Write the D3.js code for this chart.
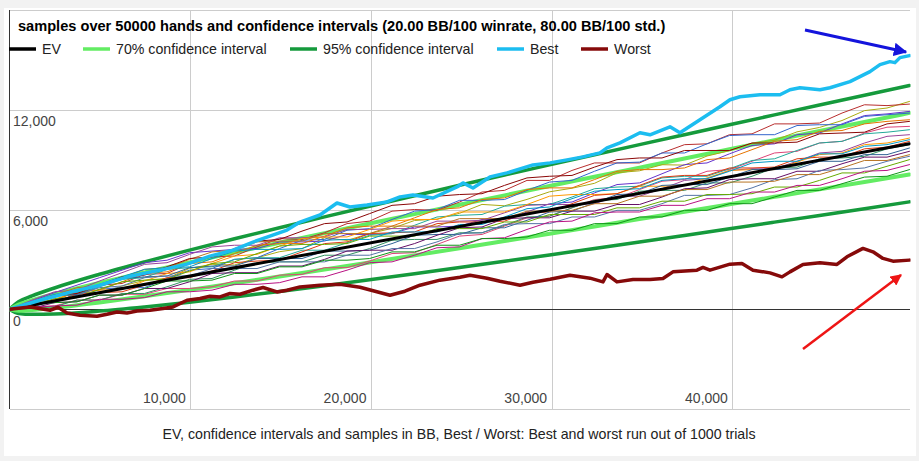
<!DOCTYPE html>
<html><head><meta charset="utf-8">
<script src="https://cdn.jsdelivr.net/npm/d3@7"></script>
<style>
html,body{margin:0;padding:0;background:#f2f2f2;}
svg{display:block;font-family:"Liberation Sans",Arial,sans-serif;}
</style></head>
<body>
<svg id="c" width="919" height="461"></svg>
<script>
// ---------- data ----------
const titleText = "samples over 50000 hands and confidence intervals (20.00 BB/100 winrate, 80.00 BB/100 std.)";
const captionText = "EV, confidence intervals and samples in BB, Best / Worst: Best and worst run out of 1000 trials";
const legendLabels = ["EV", "70% confidence interval", "95% confidence interval", "Best", "Worst"];
const xTicks = [10000, 20000, 30000, 40000];
const yTicks = [-6000, 0, 6000, 12000, 18000];
const yLabelTicks = [0, 6000, 12000];

const evHands = [0, 49800];
const evValues = [0, 9960];

const ciHands = [0, 500, 1245, 2490, 4980, 7470, 9960, 12450, 14940, 17430, 19920, 22410, 24900, 27390, 29880, 32370, 34860, 37350, 39840, 42330, 44820, 47310, 49800];
const ci70Upper = [0, 285, 541, 912, 1581, 2210, 2819, 3415, 4001, 4580, 5154, 5723, 6288, 6850, 7409, 7965, 8519, 9072, 9622, 10171, 10719, 11265, 11810];
const ci70Lower = [0, -85, -43, 84, 411, 778, 1165, 1565, 1975, 2392, 2814, 3241, 3672, 4106, 4543, 4983, 5425, 5868, 6314, 6761, 7209, 7659, 8110];
const ci95Upper = [0, 451, 802, 1280, 2103, 2849, 3557, 4240, 4905, 5556, 6197, 6829, 7454, 8073, 8686, 9295, 9900, 10500, 11098, 11692, 12284, 12873, 13459];
const ci95Lower = [0, -251, -304, -284, -111, 139, 427, 740, 1071, 1416, 1771, 2135, 2506, 2883, 3266, 3653, 4044, 4440, 4838, 5240, 5644, 6051, 6461];

const bestHands = [0, 1688, 3348, 5007, 6667, 8327, 9822, 11094, 12366, 13473, 14248, 15355, 16074, 17180, 18121, 18840, 19781, 20887, 21607, 22327, 23433, 24760, 25093, 25646, 26586, 27527, 28967, 29907, 30847, 31732, 32673, 33061, 33779, 34885, 35440, 36546, 37099, 38206, 39312, 39867, 40419, 41526, 42632, 43186, 43739, 44846, 45400, 46506, 47613, 48166, 48720, 48996, 49273, 49800];
const bestValues = [0, 543, 1025, 1447, 1990, 2352, 2714, 3196, 3558, 4040, 4342, 4764, 5246, 5668, 6392, 6151, 6271, 6452, 6754, 6874, 6693, 7357, 7598, 7296, 7960, 8201, 8683, 8804, 8985, 9166, 9407, 9708, 10010, 10613, 10492, 10975, 10613, 11397, 12181, 12603, 12784, 12904, 12904, 13206, 13326, 13206, 13326, 13688, 14291, 14713, 14894, 14834, 15135, 15256];

const worstHands = [0, 1134, 2241, 2684, 3182, 3901, 4842, 5395, 5948, 6502, 7055, 7774, 8494, 9047, 9822, 10541, 11094, 11647, 12200, 12754, 13473, 14027, 14801, 15355, 16074, 17180, 18287, 19394, 20224, 21054, 21884, 22713, 23820, 24927, 25480, 26421, 27140, 28247, 28967, 29907, 31014, 32120, 32839, 33061, 33614, 34499, 35440, 36159, 36712, 38040, 38372, 38760, 39867, 40530, 41140, 42080, 42744, 43186, 43905, 44846, 45786, 46339, 47225, 47778, 48332, 48885, 49800];
const worstValues = [0, 139, -60, 121, -223, -362, -422, -302, -163, -223, -103, -60, 42, 139, 543, 645, 784, 742, 947, 905, 1146, 1309, 1043, 1146, 1345, 1447, 1508, 1327, 1085, 844, 1085, 1447, 1749, 1930, 2050, 1869, 1688, 1447, 1628, 1809, 2050, 1869, 1646, 2092, 1646, 1791, 1791, 1851, 2249, 2352, 2515, 2352, 2714, 2756, 2352, 2189, 1948, 2249, 2695, 2792, 2695, 3154, 3660, 3455, 3057, 2894, 2955];

const sampleHands = [0, 1245, 2490, 3735, 4980, 6225, 7470, 8715, 9960, 11205, 12450, 13695, 14940, 16185, 17430, 18675, 19920, 21165, 22410, 23655, 24900, 26145, 27390, 28635, 29880, 31125, 32370, 33615, 34860, 36105, 37350, 38595, 39840, 41085, 42330, 43575, 44820, 46065, 47310, 48555, 49800];
const sampleColors = ["#aaaa11", "#b82e2e", "#6633cc", "#3366cc", "#e67300", "#dd4477", "#22aa99", "#994499", "#ff9900", "#dc3912", "#329262", "#316395", "#651067", "#5574a6", "#66aa00", "#b77322", "#b91383", "#109618", "#0099c6", "#8b0707"];
const s01 = [0, 386, 542, 1058, 944, 1400, 1736, 1862, 2458, 2704, 2660, 3096, 3462, 3648, 4304, 4140, 4556, 4862, 5338, 5424, 5770, 6306, 6222, 6608, 7064, 7280, 7576, 8212, 8328, 8694, 8670, 9216, 9542, 9978, 10164, 10670, 10936, 11352, 11948, 12104, 12500];
const s02 = [0, 400, 400, 950, 1450, 1550, 2100, 2150, 2750, 3150, 3200, 3750, 4250, 4200, 4600, 5150, 5300, 5900, 6000, 5950, 6450, 7050, 7150, 7750, 7750, 8350, 8800, 8800, 8800, 9400, 9900, 9950, 10500, 10550, 11150, 11150, 11200, 11800, 12300, 12250, 12340];
const s03 = [0, 500, 1000, 1450, 1900, 2350, 2800, 2950, 3400, 3500, 3600, 3650, 4050, 4050, 4100, 4500, 4500, 4550, 4950, 4950, 5000, 5400, 5400, 5850, 6350, 6450, 7000, 7500, 7600, 8150, 8700, 8800, 9350, 9850, 9950, 10500, 10600, 11150, 11650, 11750, 11900];
const s04 = [0, 100, 600, 700, 1200, 1300, 1300, 1850, 2350, 2450, 3000, 3100, 3650, 4150, 4200, 4750, 4850, 5400, 5900, 6000, 6550, 6550, 6600, 7150, 7650, 7750, 8300, 8800, 8850, 9400, 9400, 9950, 10450, 10500, 10500, 11050, 11100, 11100, 11600, 11700, 11800];
const s05 = [0, 450, 550, 1050, 1150, 1650, 2150, 2250, 2750, 2850, 3350, 3850, 3950, 3950, 4400, 4900, 5000, 5000, 5500, 6000, 6100, 6600, 6700, 7200, 7300, 7300, 7800, 8300, 8400, 8400, 8500, 9000, 9100, 9600, 10100, 10200, 10700, 10750, 11150, 11300, 11400];
const s06 = [0, 150, 200, 550, 550, 900, 900, 1250, 1250, 1350, 1700, 1700, 2050, 2100, 2500, 2500, 2900, 3350, 3400, 3900, 4400, 4500, 5000, 5500, 5600, 6100, 6600, 6700, 7200, 7700, 7800, 8300, 8400, 8900, 9400, 9500, 10000, 10100, 10600, 10950, 11000];
const s07 = [0, 400, 800, 850, 1350, 1800, 1900, 2400, 2500, 2550, 3000, 3100, 3100, 3550, 3550, 4000, 4450, 4550, 5050, 5550, 5650, 5700, 6200, 6300, 6300, 6750, 7250, 7350, 7400, 7900, 8000, 8000, 8450, 8950, 9050, 9550, 10000, 10100, 10550, 10650, 10800];
const s08 = [0, 550, 1050, 1150, 1700, 2200, 2700, 2800, 3300, 3750, 3850, 3850, 4300, 4300, 4350, 4800, 4800, 4850, 4850, 5300, 5300, 5350, 5800, 6250, 6300, 6300, 6350, 6800, 6800, 7250, 7750, 7850, 8350, 8450, 8450, 8900, 9400, 9500, 10000, 10400, 10500];
const s09 = [0, 150, 600, 1050, 1150, 1200, 1700, 2150, 2250, 2750, 3200, 3300, 3800, 4250, 4350, 4350, 4800, 5300, 5400, 5400, 5850, 5850, 5850, 6300, 6800, 6900, 6900, 6950, 7400, 7400, 7450, 7900, 8350, 8400, 8400, 8850, 9300, 9400, 9900, 10000, 10300];
const s10 = [0, 350, 450, 900, 1000, 1050, 1450, 1900, 1900, 2300, 2800, 2900, 2950, 3450, 3950, 4050, 4550, 4600, 4650, 5150, 5250, 5250, 5300, 5800, 5850, 6350, 6850, 6950, 7450, 7950, 8050, 8050, 8500, 8500, 8550, 9050, 9150, 9150, 9650, 9750, 10100];
const s11 = [0, 100, 150, 550, 550, 950, 950, 1350, 1800, 1850, 2350, 2800, 2850, 2850, 3250, 3250, 3650, 4150, 4200, 4200, 4600, 4600, 5050, 5550, 5600, 6100, 6550, 6600, 7100, 7150, 7150, 7600, 7600, 8000, 8500, 8550, 9050, 9100, 9200, 9650, 9900];
const s12 = [0, 350, 800, 900, 1400, 1850, 1950, 2000, 2500, 2600, 2600, 3050, 3050, 3050, 3500, 3500, 3550, 3950, 4450, 4500, 4500, 4900, 4900, 5350, 5850, 5900, 6400, 6900, 6950, 7450, 7500, 7500, 7950, 8400, 8400, 8450, 8900, 8900, 9300, 9300, 9700];
const s13 = [0, 50, 400, 450, 850, 850, 1250, 1250, 1650, 2150, 2200, 2200, 2600, 2600, 3000, 3500, 3550, 3550, 3950, 4450, 4900, 4950, 5450, 5500, 5500, 5900, 5900, 6300, 6300, 6750, 7250, 7300, 7800, 7850, 7850, 8300, 8300, 8750, 9150, 9150, 9500];
const s14 = [0, 300, 400, 850, 1300, 1400, 1900, 2000, 2000, 2450, 2450, 2450, 2850, 2850, 2850, 3250, 3250, 3650, 3650, 4050, 4550, 4600, 5100, 5150, 5150, 5550, 5550, 5950, 5950, 6350, 6850, 6850, 6900, 7300, 7800, 7850, 8350, 8400, 8500, 8900, 9200];
const s15 = [0, 200, 650, 700, 1200, 1650, 1750, 1800, 2300, 2750, 2850, 3350, 3800, 3900, 3900, 3950, 4400, 4400, 4400, 4850, 4850, 4850, 5250, 5250, 5700, 5700, 5700, 6100, 6100, 6500, 6500, 6900, 6900, 6950, 7350, 7350, 7750, 8200, 8200, 8600, 9000];
const s16 = [0, 400, 850, 1300, 1400, 1900, 2400, 2500, 3000, 3450, 3550, 4050, 4100, 4100, 4550, 4550, 4550, 5000, 5000, 5000, 5450, 5450, 5450, 5900, 5900, 5950, 6350, 6350, 6800, 6800, 7200, 7200, 7650, 7650, 7700, 8100, 8100, 8500, 8950, 8950, 9300];
const s17 = [0, 100, 200, 250, 600, 600, 700, 1050, 1050, 1150, 1500, 1500, 1600, 1950, 1950, 2350, 2800, 2850, 3250, 3700, 3750, 4250, 4300, 4800, 5250, 5300, 5800, 5850, 5850, 6250, 6250, 6650, 6650, 7050, 7050, 7450, 7450, 7850, 8300, 8350, 8700];
const s18 = [0, 350, 400, 450, 850, 850, 1250, 1700, 1700, 1750, 2150, 2150, 2550, 2550, 2950, 2950, 3050, 3450, 3450, 3850, 3850, 4250, 4250, 4350, 4750, 4750, 5150, 5150, 5550, 5550, 5950, 5950, 6350, 6350, 6750, 7150, 7150, 7550, 7950, 8000, 8400];
const s19 = [0, 450, 900, 1000, 1500, 1950, 2400, 2500, 2550, 3050, 3500, 3600, 3600, 3650, 4150, 4200, 4200, 4650, 4650, 4650, 5100, 5100, 5550, 6050, 6150, 6650, 7100, 7200, 7250, 7750, 7850, 7850, 8300, 8800, 8900, 8900, 9350, 9350, 9800, 9900, 10200];
const s20 = [0, 400, 850, 950, 1450, 1950, 2050, 2550, 3050, 3150, 3650, 4100, 4200, 4700, 5150, 5250, 5750, 6250, 6350, 6800, 6900, 6950, 7450, 7900, 8000, 8050, 8550, 9000, 9100, 9100, 9550, 9550, 9550, 10000, 10000, 10050, 10550, 10600, 10650, 11150, 11300];
const samples = [s01, s02, s03, s04, s05, s06, s07, s08, s09, s10, s11, s12, s13, s14, s15, s16, s17, s18, s19, s20];

// ---------- layout ----------
const L = 9.5, R = 909.5, T = 10, B = 409;
const FONT = "'Liberation Sans', Arial, sans-serif";
const svg = d3.select("#c");

svg.append("rect").attr("x", 4).attr("y", 8).attr("width", 912).attr("height", 448).attr("fill", "#ffffff");

const x = d3.scaleLinear().domain([0, 49800]).range([L, R]);
const y = d3.scaleLinear().domain([-6000, 18000]).range([B, T]);

const gx = svg.append("g").attr("transform", `translate(0,${B})`)
  .call(d3.axisBottom(x).tickValues(xTicks).tickSize(-(B - T)).tickFormat(d3.format(",")));
gx.select(".domain").remove();
gx.selectAll("line").attr("stroke", "#cccccc").attr("shape-rendering", "crispEdges");
gx.selectAll("text").attr("dy", null).attr("y", -6).attr("x", -5)
  .attr("text-anchor", "end").attr("fill", "#444").style("font-size", "14px").style("font-family", FONT);

const gy = svg.append("g").attr("transform", `translate(${L},0)`)
  .call(d3.axisLeft(y).tickValues(yTicks).tickSize(-(R - L)).tickFormat(d3.format(",")));
gy.select(".domain").remove();
gy.selectAll("line").attr("stroke", d => d === 0 ? "#333333" : "#cccccc").attr("shape-rendering", "crispEdges");
gy.selectAll("text").attr("dy", null).attr("y", 16).attr("x", 3.5)
  .attr("text-anchor", "start").attr("fill", "#444").style("font-size", "14px").style("font-family", FONT)
  .style("display", d => yLabelTicks.includes(d) ? null : "none");

svg.append("line").attr("x1", L).attr("x2", L).attr("y1", T).attr("y2", B)
  .attr("stroke", "#333").attr("stroke-width", 1).attr("shape-rendering", "crispEdges");

svg.append("clipPath").attr("id", "clip").append("rect")
  .attr("x", L).attr("y", T).attr("width", R - L + 1).attr("height", B - T);
const plot = svg.append("g").attr("clip-path", "url(#clip)");

function draw(hands, values, color, width) {
  const line = d3.line().x((d, i) => x(hands[i])).y(d => y(d));
  plot.append("path").datum(values).attr("d", line).attr("fill", "none")
    .attr("stroke", color).attr("stroke-width", width)
    .attr("stroke-linejoin", "round").attr("stroke-linecap", "round");
}
function drawSmooth(hands, values, color, width) {
  const line = d3.line().curve(d3.curveMonotoneX).x((d, i) => x(hands[i])).y(d => y(d));
  plot.append("path").datum(values).attr("d", line).attr("fill", "none")
    .attr("stroke", color).attr("stroke-width", width).attr("stroke-linecap", "round");
}

const C_EV = "#000000", C_70 = "#63ec63", C_95 = "#159a3c", C_BEST = "#1cbdf0", C_WORST = "#860a0a";

drawSmooth(ciHands, ci95Upper, C_95, 3.5);
drawSmooth(ciHands, ci95Lower, C_95, 3.5);
drawSmooth(ciHands, ci70Upper, C_70, 4);
drawSmooth(ciHands, ci70Lower, C_70, 4);

samples.forEach((s, i) => draw(sampleHands, s, sampleColors[i], 1));

draw(evHands, evValues, C_EV, 3);
draw(bestHands, bestValues, C_BEST, 3.5);
draw(worstHands, worstValues, C_WORST, 3.5);

svg.append("text").attr("x", 18).attr("y", 31).text(titleText)
  .style("font-size", "14.6px").style("font-weight", "bold").attr("fill", "#000");

const legendX = [9, 83, 290, 497, 581];
const legendC = [C_EV, C_70, C_95, C_BEST, C_WORST];
const lg = svg.append("g");
legendLabels.forEach((lab, i) => {
  lg.append("line").attr("x1", legendX[i]).attr("x2", legendX[i] + 27).attr("y1", 49).attr("y2", 49)
    .attr("stroke", legendC[i]).attr("stroke-width", 3.5);
  lg.append("text").attr("x", legendX[i] + 33).attr("y", 54).text(lab)
    .style("font-size", "14.2px").attr("fill", "#222");
});

svg.append("text").attr("x", 459).attr("y", 439).attr("text-anchor", "middle").text(captionText)
  .style("font-size", "14.2px").attr("fill", "#222");

const defs = svg.append("defs");
function marker(id, color) {
  defs.append("marker").attr("id", id).attr("viewBox", "0 0 10 10").attr("refX", 9).attr("refY", 5)
    .attr("markerWidth", 4.5).attr("markerHeight", 4.5).attr("orient", "auto")
    .append("path").attr("d", "M0,0 L10,5 L0,10 Z").attr("fill", color);
}
marker("mb", "#1414dc");
marker("mr", "#ee1515");
svg.append("line").attr("x1", 805).attr("y1", 30).attr("x2", 906).attr("y2", 52)
  .attr("stroke", "#1414dc").attr("stroke-width", 3).attr("marker-end", "url(#mb)");
svg.append("line").attr("x1", 803).attr("y1", 349).attr("x2", 901).attr("y2", 275)
  .attr("stroke", "#ee1515").attr("stroke-width", 2.5).attr("marker-end", "url(#mr)");
</script>
</body></html>
